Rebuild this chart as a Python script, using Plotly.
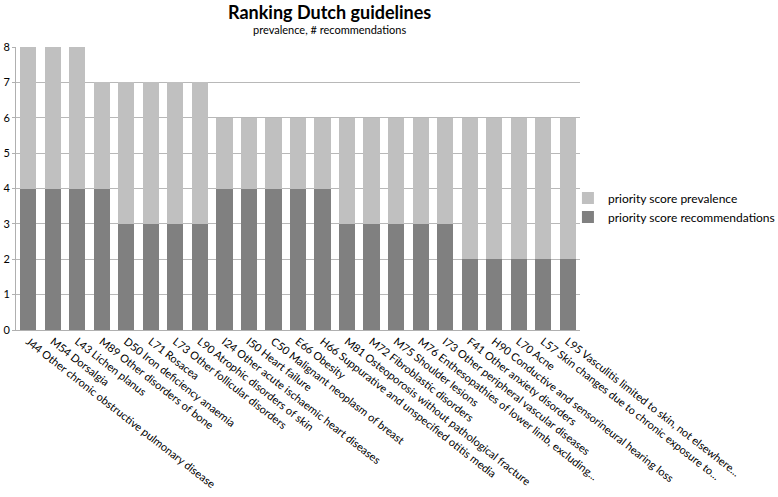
import plotly.graph_objects as go

categories = [
    "J44 Other chronic obstructive pulmonary disease",
    "M54 Dorsalgia",
    "L43 Lichen planus",
    "M89 Other disorders of bone",
    "D50 Iron deficiency anaemia",
    "L71 Rosacea",
    "L73 Other follicular disorders",
    "L90 Atrophic disorders of skin",
    "I24 Other acute ischaemic heart diseases",
    "I50 Heart failure",
    "C50 Malignant neoplasm of breast",
    "E66 Obesity",
    "H66 Suppurative and unspecified otitis media",
    "M81 Osteoporosis without pathological fracture",
    "M72 Fibroblastic disorders",
    "M75 Shoulder lesions",
    "M76 Enthesopathies of lower limb, excluding...",
    "I73 Other peripheral vascular diseases",
    "F41 Other anxiety disorders",
    "H90 Conductive and sensorineural hearing loss",
    "L70 Acne",
    "L57 Skin changes due to chronic exposure to...",
    "L95 Vasculitis limited to skin, not elsewhere...",
]
score_recommendations = [4, 4, 4, 4, 3, 3, 3, 3, 4, 4, 4, 4, 4, 3, 3, 3, 3, 3, 2, 2, 2, 2, 2]
score_prevalence = [4, 4, 4, 3, 4, 4, 4, 4, 2, 2, 2, 2, 2, 3, 3, 3, 3, 3, 4, 4, 4, 4, 4]

font_name = "Lato, Open Sans, sans-serif"

fig = go.Figure()
fig.add_trace(go.Bar(x=categories, y=score_recommendations, name="priority score recommendations",
                     marker=dict(color="#808080", line=dict(width=0))))
fig.add_trace(go.Bar(x=categories, y=score_prevalence, name="priority score prevalence",
                     marker=dict(color="#c0c0c0", line=dict(width=0))))

# title and subtitle as annotations so nothing gets clipped
fig.add_annotation(text="<b>Ranking Dutch guidelines</b>", xref="paper", yref="paper",
                   x=0.555, y=1.0, yshift=48, xanchor="center", yanchor="top",
                   showarrow=False, font=dict(size=18, family=font_name))
fig.add_annotation(text="prevalence, # recommendations", xref="paper", yref="paper",
                   x=0.555, y=1.0, yshift=26, xanchor="center", yanchor="top",
                   showarrow=False, font=dict(size=11, family=font_name))

fig.update_layout(
    barmode="stack",
    bargap=0.34,
    width=778, height=497,
    margin=dict(l=16, r=198, t=47, b=167, autoexpand=False),
    paper_bgcolor="white", plot_bgcolor="white",
    font=dict(family=font_name, size=11, color="#000000"),
    legend=dict(xref="container", yref="container", x=0.73, y=0.631,
                xanchor="left", yanchor="top", traceorder="reversed",
                font=dict(size=12), itemwidth=30, tracegroupgap=2, bgcolor="rgba(0,0,0,0)"),
    showlegend=True,
)
fig.update_xaxes(
    tickangle=38, automargin=False, showline=True, linecolor="#b0b0b0",
    tickfont=dict(size=11), ticks="",
)
fig.update_yaxes(
    range=[0, 8], dtick=1, showgrid=True, gridcolor="#b8b8b8", gridwidth=1,
    showline=True, linecolor="#b0b0b0", ticks="outside", ticklen=3, tickcolor="#b0b0b0",
    automargin=False, tickfont=dict(size=11), zeroline=False,
)

# drop the default body margin so the figure sits at the window's corner
fig.write_html("out.html", config={"displayModeBar": False},
               post_script="document.body.style.margin = '0';")
